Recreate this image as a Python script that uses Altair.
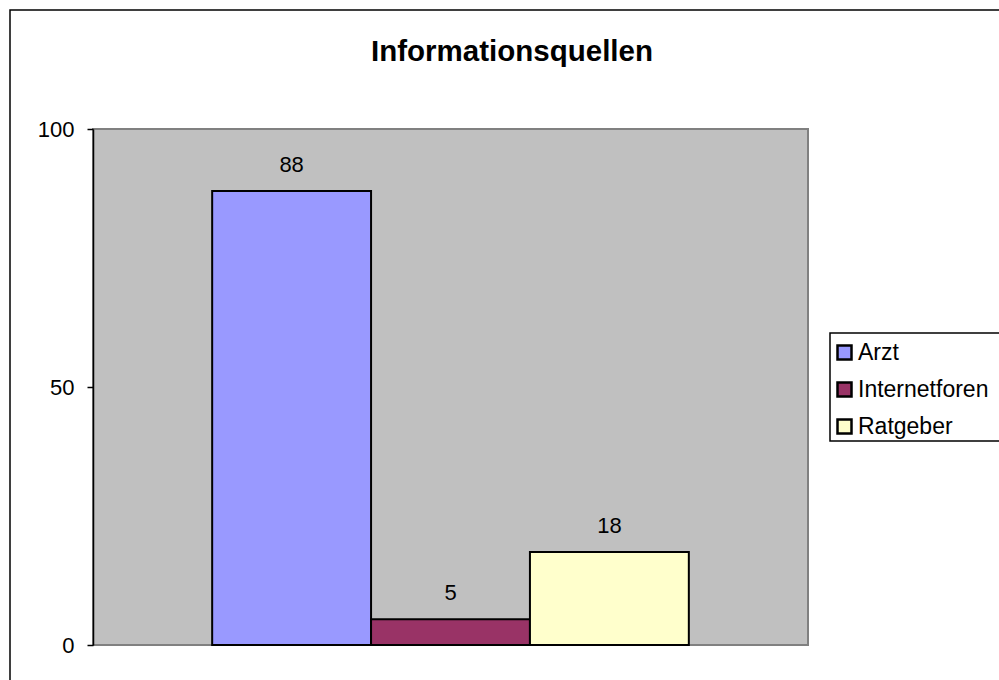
import altair as alt
import pandas as pd

# Chart content
chart_title = "Informationsquellen"
sources = ["Arzt", "Internetforen", "Ratgeber"]
counts = [88, 5, 18]
bar_colors = ["#9999FF", "#993366", "#FFFFCC"]
y_ticks = [0, 50, 100]

FONT = "Liberation Sans"
PLOT_W, PLOT_H = 715, 516
PAD = {"left": 93, "top": 129, "right": 191, "bottom": 35}

df = pd.DataFrame({"Quelle": sources, "Anzahl": counts})
title_df = pd.DataFrame({"t": [chart_title]})

base = alt.Chart(df)

bars = base.mark_bar(stroke="black", strokeWidth=2).encode(
    x=alt.X(
        "Quelle:N",
        sort=sources,
        axis=None,
        scale=alt.Scale(paddingInner=0, paddingOuter=0.75),
    ),
    y=alt.Y(
        "Anzahl:Q",
        scale=alt.Scale(domain=[0, 100], nice=False),
        axis=alt.Axis(
            values=y_ticks,
            title=None,
            grid=False,
            domainColor="black",
            domainWidth=1.5,
            tickColor="black",
            tickWidth=1.5,
            tickSize=6,
            labelFontSize=22,
            labelFont=FONT,
            labelColor="black",
            labelPadding=13,
        ),
    ),
    color=alt.Color(
        "Quelle:N",
        sort=sources,
        scale=alt.Scale(domain=sources, range=bar_colors),
        legend=alt.Legend(
            title=None,
            orient="none",
            legendX=732,
            legendY=204,
            direction="vertical",
            padding=8,
            symbolType="square",
            symbolSize=196,
            symbolStrokeColor="black",
            symbolStrokeWidth=2.5,
            symbolOpacity=1,
            labelFont=FONT,
            labelFontSize=23,
            labelColor="black",
            labelOffset=2,
            rowPadding=12,
            labelLimit=300,
        ),
    ),
)

labels = base.mark_text(
    dy=-19, baseline="alphabetic", fontSize=22, font=FONT, color="black"
).encode(
    x=alt.X("Quelle:N", sort=sources),
    y=alt.Y("Anzahl:Q"),
    text=alt.Text("Anzahl:Q"),
)

# Chart heading, centred over the whole frame
heading = alt.Chart(title_df).mark_text(
    fontSize=29.5, fontWeight="bold", font=FONT, color="black",
    baseline="alphabetic", align="center",
).encode(
    x=alt.value(419),
    y=alt.value(-68),
    text="t:N",
)

# Outer frame around the whole chart
frame = alt.Chart(title_df).mark_rect(
    fill=None, fillOpacity=0, stroke="black", strokeWidth=1.5
).encode(
    x=alt.value(-83),
    y=alt.value(-119),
    x2=alt.value(930),
    y2=alt.value(580),
)

# White box behind the legend, running past the right edge
legend_box = alt.Chart(title_df).mark_rect(
    fill="white", stroke="black", strokeWidth=1.5
).encode(
    x=alt.value(737),
    y=alt.value(204),
    x2=alt.value(925),
    y2=alt.value(312),
)

chart = (
    alt.layer(frame, legend_box, bars, labels, heading)
    .properties(
        width=PLOT_W,
        height=PLOT_H,
        padding=PAD,
        autosize=alt.AutoSizeParams(type="none"),
        background="white",
    )
    .configure_view(fill="#C0C0C0", stroke="#808080", strokeWidth=2)
)

chart.save("out.html", embed_options={"renderer": "svg", "actions": False})
